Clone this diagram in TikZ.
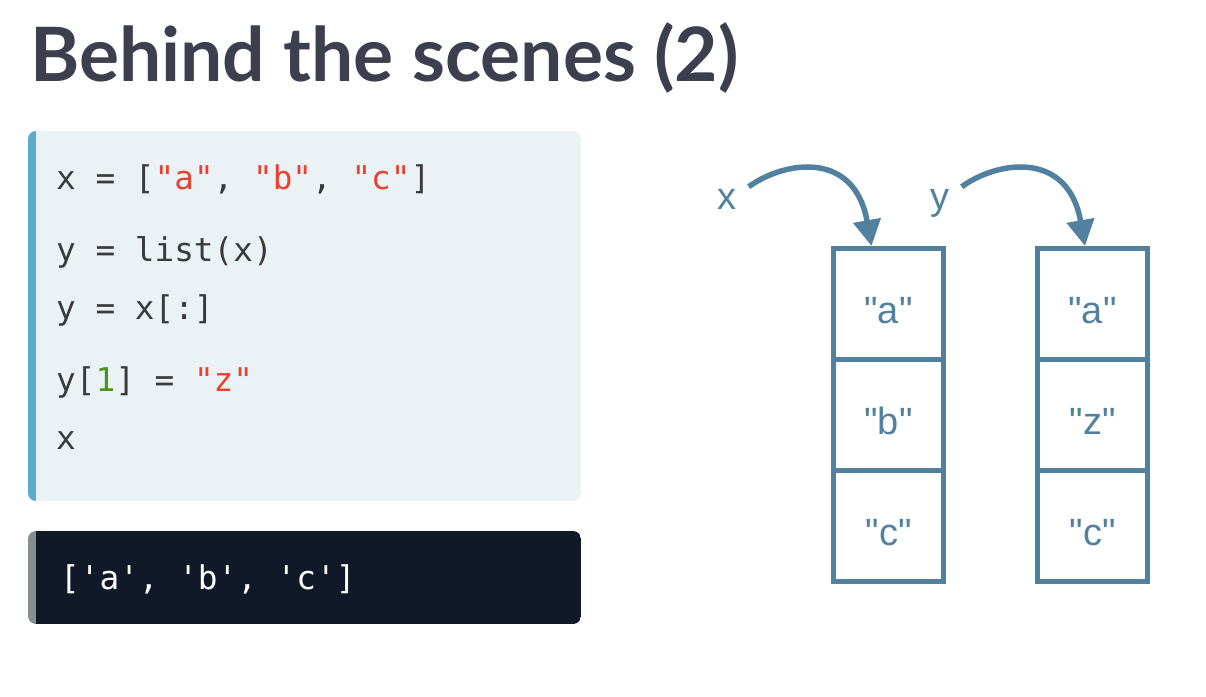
\documentclass[tikz,border=0pt]{standalone}
\usepackage{fontspec}
\setmainfont{Liberation Sans}[Ligatures=TeXOff]
\setmonofont{DejaVu Sans Mono}
\newfontfamily\titlefont{Lato}
\usetikzlibrary{positioning,arrows.meta}
\definecolor{titlegray}{HTML}{3C404E}
\definecolor{codebg}{HTML}{EBF2F6}
\definecolor{codebar}{HTML}{5AABCB}
\definecolor{codetext}{HTML}{3A3A3A}
\definecolor{codestr}{HTML}{E8422F}
\definecolor{codenum}{HTML}{4A951D}
\definecolor{outbg}{HTML}{111827}
\definecolor{outbar}{HTML}{868E90}
\definecolor{memblue}{HTML}{52819F}
\newcommand{\codestr}[1]{\textcolor{codestr}{#1}}
\newcommand{\codenum}[1]{\textcolor{codenum}{#1}}
\begin{document}
\begin{tikzpicture}[x=1pt,y=1pt,
  codeline/.style={anchor=base west,inner sep=0pt,font=\ttfamily\fontsize{32.7}{40}\selectfont,text=codetext},
  cell/.style={draw=memblue,line width=5.5pt,minimum width=110pt,minimum height=111pt,inner sep=0pt,outer sep=0pt,text height=40pt,text depth=0pt,font=\fontsize{38}{44}\selectfont,text=memblue},
  varname/.style={inner sep=0pt,anchor=base,font=\fontsize{38}{44}\selectfont,text=memblue},
  ref/.style={draw=memblue,line width=5.5pt,-{Triangle[width=27pt,length=26pt]}}]
\useasboundingbox (0,0) rectangle (1206,696);
% title
\node[anchor=base west,inner sep=0pt,text=titlegray,font=\titlefont\bfseries\fontsize{75}{80}\selectfont] (title) at (30,614) {Behind the scenes (2)};
% code cell
\begin{scope}
\clip[rounded corners=8pt] (28,195) rectangle (581,565);
\fill[codebar] (28,195) rectangle (36,565);
\fill[codebg] (36,195) rectangle (581,565);
\end{scope}
\node[codeline] (line1) at (56,506) {x = [\codestr{"a"}, \codestr{"b"}, \codestr{"c"}]};
\node[codeline] (line2) at (56,434) {y = list(x)};
\node[codeline] (line3) at (56,376) {y = x[:]};
\node[codeline] (line4) at (56,304) {y[\codenum{1}] = \codestr{"z"}};
\node[codeline] (line5) at (56,246) {x};
% output cell
\begin{scope}
\clip[rounded corners=8pt] (28,72) rectangle (581,165);
\fill[outbar] (28,72) rectangle (36,165);
\fill[outbg] (36,72) rectangle (581,165);
\end{scope}
\node[codeline,text=white] (output) at (60,107) {['a', 'b', 'c']};
% memory
\node[cell] (xa) at (888.5,392) {"a"};
\node[cell,below=0pt of xa] (xb) {"b"};
\node[cell,below=0pt of xb] (xc) {"c"};
\node[cell] (ya) at (1092.5,392) {"a"};
\node[cell,below=0pt of ya] (yz) {"z"};
\node[cell,below=0pt of yz] (yc) {"c"};
\node[varname] (xvar) at (727,486) {x};
\node[varname] (yvar) at (940,486) {y};
\draw[ref] ([shift={(12pt,3pt)}]xvar.north east) .. controls +(36,26) and +(-17,96) .. ([shift={(-17pt,2.5pt)}]xa.north);
\draw[ref] ([shift={(12pt,3pt)}]yvar.north east) .. controls +(36,26) and +(-17,96) .. ([shift={(-7.5pt,2.5pt)}]ya.north);
\end{tikzpicture}
\end{document}
